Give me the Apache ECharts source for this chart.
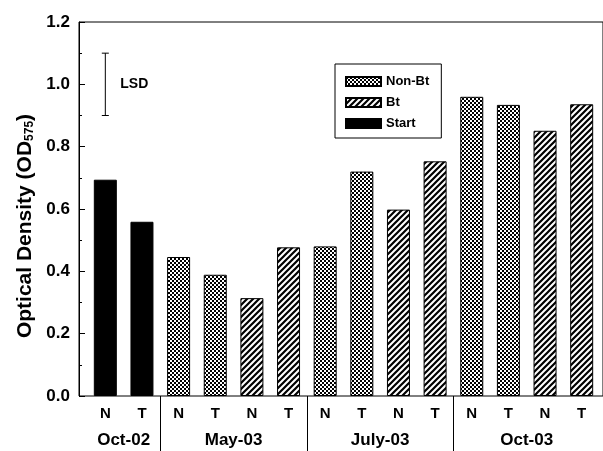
<!DOCTYPE html>
<html>
<head>
<meta charset="utf-8">
<script src="https://cdn.jsdelivr.net/npm/echarts@6/dist/echarts.min.js"></script>
<style>
  html, body { margin: 0; padding: 0; background: #fff; }
  #chart { width: 603px; height: 451px; }
</style>
</head>
<body>
<div id="chart"></div>
<script>
// data
const barLabels = ['N', 'T', 'N', 'T', 'N', 'T', 'N', 'T', 'N', 'T', 'N', 'T', 'N', 'T']
const groupNames = ['Oct-02', 'May-03', 'July-03', 'Oct-03']
const groupSizes = [2, 4, 4, 4]
const startValues = [0.694, 0.559, '-', '-', '-', '-', '-', '-', '-', '-', '-', '-', '-', '-']
const nonBtValues = ['-', '-', 0.446, 0.389, '-', '-', 0.48, 0.72, '-', '-', 0.96, 0.934, '-', '-']
const btValues = ['-', '-', '-', '-', 0.314, 0.477, '-', '-', 0.598, 0.753, '-', '-', 0.851, 0.936]
const lsdCenter = 1.0
const lsdHalf = 0.1
const yTicks = [0, 0.2, 0.4, 0.6, 0.8, 1.0, 1.2]

const font = 'Liberation Sans, Arial, sans-serif'

// fill patterns
function dotPattern() {
  const c = document.createElement('canvas')
  c.width = 4
  c.height = 4
  const ctx = c.getContext('2d')
  ctx.fillStyle = '#fff'
  ctx.fillRect(0, 0, 4, 4)
  ctx.fillStyle = '#000'
  ctx.fillRect(0, 0, 2, 2)
  ctx.fillRect(2, 2, 2, 2)
  return c
}
function stripePattern() {
  const s = 6
  const c = document.createElement('canvas')
  c.width = s
  c.height = s
  const ctx = c.getContext('2d')
  ctx.fillStyle = '#fff'
  ctx.fillRect(0, 0, s, s)
  ctx.strokeStyle = '#000'
  ctx.lineWidth = 2.2
  ctx.beginPath()
  ctx.moveTo(0, s); ctx.lineTo(s, 0)
  ctx.moveTo(-1, 1); ctx.lineTo(1, -1)
  ctx.moveTo(s - 1, s + 1); ctx.lineTo(s + 1, s - 1)
  ctx.stroke()
  return c
}

// group axis: half-band slots, labels at group centers, separators at group edges
const slotCount = barLabels.length * 2 + 1
const groupSlots = new Array(slotCount).fill('')
const sepSlots = []
let pos = 0
groupNames.forEach((name, i) => {
  groupSlots[pos + groupSizes[i]] = name
  pos += groupSizes[i] * 2
  if (i < groupNames.length - 1) sepSlots.push(pos)
})

const chart = echarts.init(document.getElementById('chart'))

const barCommon = {
  type: 'bar',
  xAxisIndex: 1,
  yAxisIndex: 1,
  barWidth: 23,
  barGap: '-100%'
}

const option = {
  animation: false,
  grid: [
    { left: 79, top: 22, width: 560, height: 374, show: true, borderColor: '#000', borderWidth: 1, backgroundColor: 'transparent' },
    { left: 87, top: 22, width: 518, height: 374 }
  ],
  legend: {
    data: ['Non-Bt', 'Bt', 'Start'],
    orient: 'vertical',
    left: 335,
    top: 64,
    padding: [11, 12, 8, 10],
    itemGap: 8,
    itemWidth: 35,
    itemHeight: 9,
    icon: 'rect',
    borderColor: '#000',
    borderWidth: 1,
    textStyle: { fontFamily: font, fontWeight: 'bold', fontSize: 13, color: '#000' }
  },
  xAxis: [
    { gridIndex: 0, type: 'value', min: 0, max: 1, show: false },
    {
      gridIndex: 1,
      type: 'category',
      position: 'bottom',
      data: barLabels,
      axisLine: { show: false },
      axisTick: { show: false },
      axisLabel: { interval: 0, margin: 10, fontFamily: font, fontWeight: 'bold', fontSize: 15, color: '#000' }
    },
    {
      gridIndex: 1,
      type: 'category',
      position: 'bottom',
      boundaryGap: false,
      data: groupSlots,
      axisLine: { show: false },
      axisTick: {
        show: true,
        inside: false,
        length: 56,
        interval: (i) => sepSlots.indexOf(i) >= 0,
        lineStyle: { color: '#000', width: 1 }
      },
      axisLabel: { interval: 0, margin: 36, fontFamily: font, fontWeight: 'bold', fontSize: 17, color: '#000' }
    }
  ],
  yAxis: [
    {
      gridIndex: 0,
      type: 'value',
      min: yTicks[0],
      max: yTicks[yTicks.length - 1],
      interval: 0.2,
      name: '{a|Optical Density (OD}{b|575}{a|)}',
      nameLocation: 'middle',
      nameGap: 43,
      nameTextStyle: {
        padding: [0, 34, 0, 0],
        rich: {
          a: { fontFamily: font, fontWeight: 'bold', fontSize: 21, color: '#000' },
          b: { fontFamily: font, fontWeight: 'bold', fontSize: 12, color: '#000', verticalAlign: 'bottom', padding: [9, 0, 0, 0] }
        }
      },
      axisLine: { show: true, lineStyle: { color: '#000', width: 1 } },
      axisTick: { show: true, inside: true, length: 6, lineStyle: { color: '#000' } },
      minorTick: { show: true, splitNumber: 2, length: 3, lineStyle: { color: '#000' } },
      splitLine: { show: false },
      axisLabel: {
        margin: 9,
        formatter: (v) => v.toFixed(1),
        fontFamily: font,
        fontWeight: 'bold',
        fontSize: 17,
        color: '#000'
      }
    },
    { gridIndex: 1, type: 'value', min: 0, max: 1.2, show: false }
  ],
  series: [
    Object.assign({}, barCommon, { name: 'Start', data: startValues, itemStyle: { color: '#000', borderColor: '#000', borderWidth: 1 } }),
    Object.assign({}, barCommon, { name: 'Non-Bt', data: nonBtValues, itemStyle: { color: { image: dotPattern(), repeat: 'repeat' }, borderColor: '#000', borderWidth: 1 } }),
    Object.assign({}, barCommon, { name: 'Bt', data: btValues, itemStyle: { color: { image: stripePattern(), repeat: 'repeat' }, borderColor: '#000', borderWidth: 1 } }),
    {
      type: 'custom',
      name: 'LSD',
      xAxisIndex: 1,
      yAxisIndex: 1,
      data: [[0, lsdCenter - lsdHalf, lsdCenter + lsdHalf]],
      renderItem: (params, api) => {
        const lo = api.coord([api.value(0), api.value(1)])
        const hi = api.coord([api.value(0), api.value(2)])
        const mid = api.coord([api.value(0), (api.value(1) + api.value(2)) / 2])
        const cap = 3.5
        const ls = { stroke: '#000', lineWidth: 1 }
        return {
          type: 'group',
          children: [
            { type: 'line', shape: { x1: lo[0], y1: lo[1], x2: hi[0], y2: hi[1] }, style: ls },
            { type: 'line', shape: { x1: lo[0] - cap, y1: lo[1], x2: lo[0] + cap, y2: lo[1] }, style: ls },
            { type: 'line', shape: { x1: hi[0] - cap, y1: hi[1], x2: hi[0] + cap, y2: hi[1] }, style: ls },
            {
              type: 'text',
              x: mid[0] + 15,
              y: mid[1],
              style: { text: 'LSD', fill: '#000', font: 'bold 14px ' + font, verticalAlign: 'middle', align: 'left' }
            }
          ]
        }
      }
    }
  ]
}

chart.setOption(option)
</script>
</body>
</html>
